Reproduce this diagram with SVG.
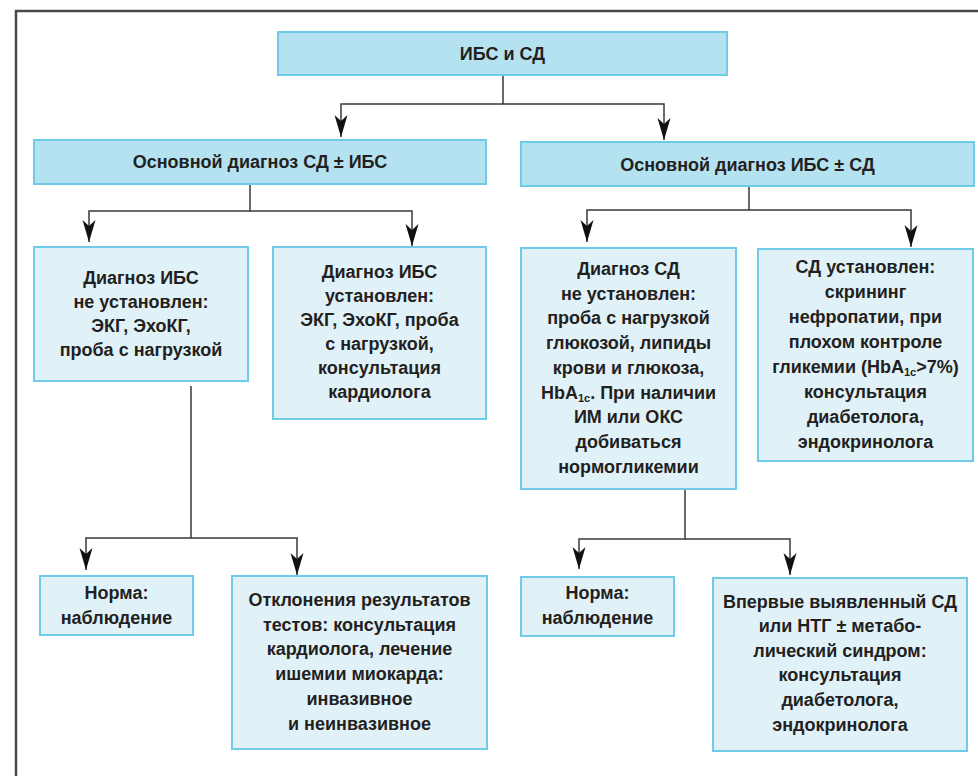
<svg xmlns="http://www.w3.org/2000/svg" width="978" height="776" viewBox="0 0 978 776">
<style>
.hdr{fill:#b5e2f1;stroke:#6fcbe7;stroke-width:2}
.box{fill:#e1f1f8;stroke:#6fcbe7;stroke-width:2}
text{font-family:"Liberation Sans",Arial,sans-serif;font-weight:bold;font-size:18px;fill:#231f20;text-anchor:middle}
.sub{font-size:11px}
.con{fill:none;stroke:#3a3a3a;stroke-width:1.5}
.frame{fill:none;stroke:#4a4a4a;stroke-width:2.5}
</style>
<defs>
<marker id="arr" viewBox="0 0 22 14" refX="22" refY="7" markerWidth="22" markerHeight="14" markerUnits="userSpaceOnUse" orient="auto">
<path d="M22,7 L0,0.5 L6,7 L0,13.5 Z" fill="#111"/>
</marker>
</defs>
<rect width="978" height="776" fill="#fff"/>
<path class="frame" d="M16,776 V11 H978"/>
<g id="connectors">
<path class="con" d="M503,75 V104 H341 V137" marker-end="url(#arr)"/>
<path class="con" d="M503,104 H664 V140" marker-end="url(#arr)"/>
<path class="con" d="M250,184 V211 H89 V242" marker-end="url(#arr)"/>
<path class="con" d="M250,211 H412 V246" marker-end="url(#arr)"/>
<path class="con" d="M749,186 V210 H587 V242" marker-end="url(#arr)"/>
<path class="con" d="M749,210 H911 V247" marker-end="url(#arr)"/>
<path class="con" d="M191,386 V538 H86 V570" marker-end="url(#arr)"/>
<path class="con" d="M191,538 H297 V575" marker-end="url(#arr)"/>
<path class="con" d="M685,489 V539 H579 V569" marker-end="url(#arr)"/>
<path class="con" d="M685,539 H790 V575" marker-end="url(#arr)"/>
</g>
<g id="n-top">
<rect class="hdr" x="278" y="32" width="449" height="43"/>
<text x="502.5" y="60">ИБС и СД</text>
</g>
<g id="n-sd-main">
<rect class="hdr" x="34" y="140" width="452" height="44"/>
<text x="260" y="168">Основной диагноз СД ± ИБС</text>
</g>
<g id="n-ibs-main">
<rect class="hdr" x="521" y="142" width="453" height="44"/>
<text x="747.5" y="171">Основной диагноз ИБС ± СД</text>
</g>
<g id="n-ibs-not">
<rect class="box" x="34" y="247" width="214" height="134"/>
<text x="141" y="284">Диагноз ИБС</text>
<text x="141" y="308">не установлен:</text>
<text x="141" y="332">ЭКГ, ЭхоКГ,</text>
<text x="141" y="356">проба с нагрузкой</text>
</g>
<g id="n-ibs-yes">
<rect class="box" x="273" y="247" width="213" height="172"/>
<text x="379.5" y="278">Диагноз ИБС</text>
<text x="379.5" y="302">установлен:</text>
<text x="379.5" y="326">ЭКГ, ЭхоКГ, проба</text>
<text x="379.5" y="350">с нагрузкой,</text>
<text x="379.5" y="374">консультация</text>
<text x="379.5" y="398">кардиолога</text>
</g>
<g id="n-sd-not">
<rect class="box" x="521" y="248" width="215" height="241"/>
<text x="628.5" y="275">Диагноз СД</text>
<text x="628.5" y="299.7">не установлен:</text>
<text x="628.5" y="324.4">проба с нагрузкой</text>
<text x="628.5" y="349.1">глюкозой, липиды</text>
<text x="628.5" y="373.8">крови и глюкоза,</text>
<text x="628.5" y="398.5">HbA<tspan class="sub" dy="3">1c</tspan><tspan dy="-3">. При наличии</tspan></text>
<text x="628.5" y="423.2">ИМ или ОКС</text>
<text x="628.5" y="447.9">добиваться</text>
<text x="628.5" y="472.6">нормогликемии</text>
</g>
<g id="n-sd-yes">
<rect class="box" x="758" y="249" width="215" height="212"/>
<text x="865.5" y="273">СД установлен:</text>
<text x="865.5" y="298">скрининг</text>
<text x="865.5" y="323">нефропатии, при</text>
<text x="865.5" y="348">плохом контроле</text>
<text x="865.5" y="373">гликемии (HbA<tspan class="sub" dy="3">1c</tspan><tspan dy="-3">&gt;7%)</tspan></text>
<text x="865.5" y="398">консультация</text>
<text x="865.5" y="423">диабетолога,</text>
<text x="865.5" y="448">эндокринолога</text>
</g>
<g id="n-norm-left">
<rect class="box" x="40" y="576" width="153" height="59"/>
<text x="116.5" y="599">Норма:</text>
<text x="116.5" y="624">наблюдение</text>
</g>
<g id="n-dev">
<rect class="box" x="232" y="576" width="255" height="173"/>
<text x="359.5" y="606">Отклонения результатов</text>
<text x="359.5" y="631">тестов: консультация</text>
<text x="359.5" y="655">кардиолога, лечение</text>
<text x="359.5" y="680">ишемии миокарда:</text>
<text x="359.5" y="705">инвазивное</text>
<text x="359.5" y="730">и неинвазивное</text>
</g>
<g id="n-norm-right">
<rect class="box" x="521" y="577" width="153" height="59"/>
<text x="597.5" y="599">Норма:</text>
<text x="597.5" y="624">наблюдение</text>
</g>
<g id="n-new-sd">
<rect class="box" x="713" y="578" width="254" height="173"/>
<text x="840" y="608">Впервые выявленный СД</text>
<text x="840" y="632">или НТГ ± метабо-</text>
<text x="840" y="657">лический синдром:</text>
<text x="840" y="681">консультация</text>
<text x="840" y="706">диабетолога,</text>
<text x="840" y="731">эндокринолога</text>
</g>
</svg>
